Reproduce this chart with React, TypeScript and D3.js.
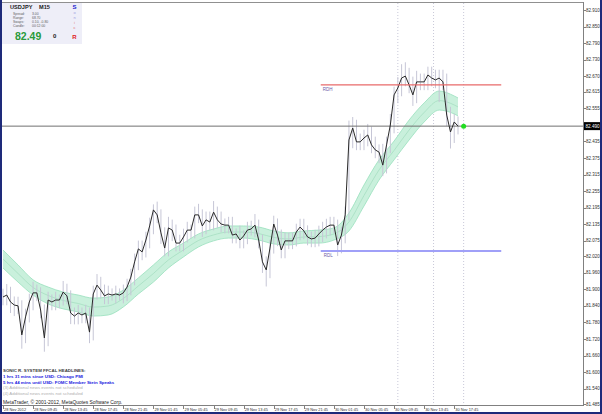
import React from 'react'
import * as d3 from 'd3'

// USDJPY M15, closes sampled every 30 min, 28 Nov 05:45 -> 30 Nov 18:15 (broker time)
const closes = [
  81.872, 81.879, 81.854, 81.843, 81.840, 81.735, 81.800, 81.854, 81.887, 81.887,
  81.825, 81.724, 81.861, 81.854, 81.861, 81.861, 81.890, 81.876, 81.814, 81.803,
  81.814, 81.807, 81.814, 81.745, 81.883, 81.915, 81.897, 81.876, 81.883, 81.879,
  81.883, 81.879, 81.887, 81.908, 81.944, 81.999, 82.046, 82.035, 82.078, 82.129,
  82.187, 82.169, 82.104, 82.049, 82.122, 82.114, 82.067, 82.067, 82.089, 82.114,
  82.114, 82.169, 82.169, 82.129, 82.151, 82.143, 82.179, 82.151, 82.136, 82.132,
  82.132, 82.096, 82.100, 82.078, 82.093, 82.114, 82.118, 82.132, 82.078, 81.999,
  81.970, 82.049, 82.136, 82.096, 82.042, 82.075, 82.075, 82.075, 82.107, 82.125,
  82.111, 82.089, 82.082, 82.085, 82.100, 82.114, 82.125, 82.132, 82.132, 82.060,
  82.096, 82.169, 82.440, 82.483, 82.433, 82.433, 82.447, 82.458, 82.422, 82.404,
  82.396, 82.349, 82.422, 82.494, 82.603, 82.628, 82.664, 82.671, 82.639, 82.603,
  82.650, 82.650, 82.650, 82.675, 82.664, 82.657, 82.664, 82.650, 82.530, 82.469,
  82.505, 82.490,
]
// wick size past the bar body, in pips
const wickUp = [
  3, 4, 3, 2, 3, 2, 3, 3, 4, 3, 2, 2, 3, 2, 3, 2, 4, 3, 2, 2,
  3, 2, 3, 2, 3, 4, 3, 2, 3, 2, 3, 2, 3, 3, 3, 3, 3, 3, 3, 3,
  2, 3, 2, 2, 4, 3, 2, 3, 3, 3, 2, 3, 4, 2, 3, 3, 4, 2, 3, 2,
  3, 3, 2, 3, 2, 3, 3, 4, 2, 2, 2, 3, 3, 2, 2, 3, 3, 3, 3, 3,
  3, 2, 2, 3, 3, 3, 3, 3, 3, 2, 3, 3, 7, 4, 3, 3, 3, 4, 3, 3,
  2, 3, 3, 4, 3, 4, 5, 5, 3, 3, 4, 3, 3, 3, 3, 3, 3, 3, 3, 3,
  3, 2,
]
const wickDown = [
  3, 3, 4, 4, 3, 5, 3, 2, 3, 3, 3, 5, 3, 3, 3, 3, 2, 3, 4, 3,
  3, 3, 3, 4, 3, 2, 3, 3, 3, 2, 3, 2, 3, 3, 3, 3, 3, 3, 2, 3,
  3, 3, 4, 3, 3, 4, 3, 3, 3, 2, 3, 3, 3, 4, 3, 3, 3, 3, 3, 3,
  3, 3, 3, 3, 3, 3, 2, 3, 3, 4, 6, 3, 2, 4, 3, 3, 3, 3, 2, 3,
  3, 3, 3, 3, 3, 3, 3, 3, 3, 4, 3, 3, 2, 3, 3, 3, 3, 3, 3, 3,
  4, 4, 3, 3, 3, 3, 3, 3, 3, 4, 3, 3, 3, 3, 3, 3, 8, 3, 4, 6,
  4, 3,
]

// Sonic R dragon (EMA34 of high / low), every 2 hours + last bar
const dragonHigh = [
  82.042, 81.988, 81.934, 81.908, 81.890, 81.879, 81.868, 81.872, 81.897, 81.941,
  81.988, 82.035, 82.067, 82.100, 82.118, 82.129, 82.129, 82.125, 82.111, 82.104,
  82.111, 82.114, 82.122, 82.176, 82.277, 82.368, 82.436, 82.512, 82.574, 82.617,
  82.599, 82.592,
]
const dragonLow = [
  81.977, 81.926, 81.879, 81.847, 81.829, 81.818, 81.803, 81.807, 81.836, 81.883,
  81.926, 81.977, 82.017, 82.053, 82.075, 82.085, 82.085, 82.078, 82.064, 82.060,
  82.067, 82.067, 82.078, 82.111, 82.201, 82.295, 82.368, 82.440, 82.505, 82.548,
  82.534, 82.527,
]

const priceTicks = [
  82.910, 82.850, 82.790, 82.730, 82.670, 82.615, 82.555, 82.435, 82.375, 82.315,
  82.255, 82.195, 82.135, 82.075, 82.020, 81.960, 81.900, 81.840, 81.780, 81.720,
  81.660, 81.600, 81.540, 81.485,
]
const lastPrice = 82.490
const dayHigh = 82.639
const dayLow = 82.038

const infoRows = [
  ['Spread:', '3.00'],
  ['Range:', '68.70'],
  ['Swaps:', '0.10, -0.80'],
  ['Candle:', '00:12:00'],
]
const sonicLetters = [
  ['S', '#2020d0', 'bold'],
  ['o', '#a0a0e0', 'normal'],
  ['n', '#a0a0e0', 'normal'],
  ['i', '#e08080', 'normal'],
  ['c', '#e06060', 'normal'],
  ['R', '#e02020', 'bold'],
]
const headlines = [
  ['SONIC R. SYSTEM  FFCAL HEADLINES:', '#404040', 'bold'],
  ['1 hrs 31 mins since USD: Chicago PMI', '#2020e0', 'bold'],
  ['5 hrs 44 mins until USD: FOMC Member Stein Speaks', '#2020e0', 'bold'],
  ['(3)  Additional news events not scheduled', '#b0b0b0', 'normal'],
  ['(4)  Additional news events not scheduled', '#b0b0b0', 'normal'],
]

const FONT = '"Liberation Sans", Arial, sans-serif'

export default function App() {
  const start = new Date(2012, 10, 28, 5, 45)
  const end = new Date(2012, 10, 30, 18, 15)
  const plot = { left: 2, top: 3, right: 583, bottom: 405 }

  const x = d3.scaleTime().domain([start, end]).range([3, 458])
  const y = d3.scaleLinear().domain([81.485, 82.910]).range([404, 10])

  const barTime = i => d3.timeMinute.offset(start, 30 * i)
  const dragonTime = k => k < dragonHigh.length - 1 ? d3.timeHour.offset(start, 2 * k) : end

  const line = d3.line().x((d, i) => x(barTime(i))).y(d => y(d))
  const band = d3.area()
    .curve(d3.curveMonotoneX)
    .x((d, k) => x(dragonTime(k)))
    .y0((d, k) => y(dragonLow[k]))
    .y1((d, k) => y(dragonHigh[k]))
  const edge = arr => d3.line().curve(d3.curveMonotoneX)
    .x((d, k) => x(dragonTime(k))).y(d => y(d))(arr)
  const mid = dragonHigh.map((h, k) => (h + dragonLow[k]) / 2)

  const wicks = closes.map((c, i) => {
    const prev = i > 0 ? closes[i - 1] : c
    const hi = Math.max(prev, c) + wickUp[i] * 0.01
    const lo = Math.min(prev, c) - wickDown[i] * 0.01
    return { x: x(barTime(i)), y1: y(hi), y2: y(lo) }
  })

  const timeTicks = d3.range(16).map(k => d3.timeHour.offset(start, 4 * k))
  const fmt = d3.timeFormat('%d %b %H:%M')

  const dayStart = new Date(2012, 10, 30, 0, 0)
  const dayEnd = new Date(2012, 11, 1, 0, 0)
  const separators = [
    new Date(2012, 10, 30, 10, 15),
    new Date(2012, 10, 30, 15, 0),
    new Date(2012, 10, 30, 19, 0),
  ]

  return (
    <svg width={602} height={414} style={{ position: 'absolute', left: 0, top: 0, fontFamily: FONT }}>
      <rect width={602} height={414} fill='#ffffff' />
      <defs>
        <clipPath id='plot'>
          <rect x={plot.left} y={plot.top} width={plot.right - plot.left} height={plot.bottom - plot.top} />
        </clipPath>
      </defs>

      <g clipPath='url(#plot)'>
        {separators.map((t, i) => (
          <line key={i} x1={x(t)} x2={x(t)} y1={plot.top} y2={plot.bottom}
            stroke='#c8c8d8' strokeDasharray='1,2' />
        ))}
        <path d={band(dragonHigh)} fill='#c9f0dc' />
        <path d={edge(dragonHigh)} fill='none' stroke='#98e0bc' strokeWidth={0.8} />
        <path d={edge(dragonLow)} fill='none' stroke='#98e0bc' strokeWidth={0.8} />
        <path d={edge(mid)} fill='none' stroke='#9ad8b8' strokeWidth={0.6} />
        {wicks.map((w, i) => (
          <line key={i} x1={w.x} x2={w.x} y1={w.y1} y2={w.y2} stroke='#c6c6d6' strokeWidth={1} />
        ))}
        <line x1={plot.left} x2={plot.right} y1={y(lastPrice)} y2={y(lastPrice)} stroke='#707070' />
        <path d={line(closes)} fill='none' stroke='#2a2a2a' strokeWidth={1} />
        <line x1={x(dayStart)} x2={x(dayEnd)} y1={y(dayHigh)} y2={y(dayHigh)} stroke='#e86a6a' strokeWidth={1.2} />
        <line x1={x(dayStart)} x2={x(dayEnd)} y1={y(dayLow)} y2={y(dayLow)} stroke='#a0a0f8' strokeWidth={2} />
        <text x={x(dayStart) + 2} y={y(dayHigh) + 6} fontSize={4.5} fill='#6a5aa8'>RDH</text>
        <text x={x(dayStart) + 3} y={y(dayLow) + 6} fontSize={4.5} fill='#6a5aa8'>RDL</text>
        <circle cx={x(separators[2])} cy={y(lastPrice)} r={2.5} fill='#22dd22' />

        {headlines.map(([t, c, w], i) => (
          <text key={i} x={3} y={[371.5, 378, 383.5, 389, 394.5][i]} fontSize={4.4} fill={c} fontWeight={w}>{t}</text>
        ))}
        <text x={3} y={403.5} fontSize={4.9} fill='#202020'>MetaTrader, © 2001-2012, MetaQuotes Software Corp.</text>

        <rect x={2} y={3} width={80} height={41} fill='#eeeef8' />
        <text x={10} y={8.5} fontSize={5.6} fontWeight='bold' fill='#202020'>USDJPY</text>
        <text x={39} y={8.5} fontSize={5.6} fontWeight='bold' fill='#202020'>M15</text>
        {infoRows.map(([k, v], i) => (
          <g key={k}>
            <text x={13} y={15 + i * 4} fontSize={3.4} fill='#606060'>{k}</text>
            <text x={32} y={15 + i * 4} fontSize={3.4} fill='#606060'>{v}</text>
          </g>
        ))}
        <text x={15} y={39.5} fontSize={10.5} fontWeight='bold' fill='#2a9a3a'>82.49</text>
        <text x={53} y={37.5} fontSize={6} fontWeight='bold' fill='#202020'>0</text>
        {sonicLetters.map(([l, c, w], i) => (
          <text key={i} x={74.5} y={[8.5, 14, 19, 24, 29, 39][i]} textAnchor='middle'
            fontSize={w === 'bold' ? 6 : 4} fontWeight={w} fill={c}>{l}</text>
        ))}
      </g>

      {/* plot frame */}
      <line x1={plot.left} x2={plot.right} y1={plot.top - 0.5} y2={plot.top - 0.5} stroke='#909090' />
      <line x1={plot.left} x2={plot.right + 0.5} y1={plot.bottom + 0.5} y2={plot.bottom + 0.5} stroke='#808080' />
      <line x1={plot.right + 0.5} x2={plot.right + 0.5} y1={plot.top - 1} y2={plot.bottom + 1} stroke='#808080' />

      {/* price axis */}
      {priceTicks.map(p => (
        <g key={p}>
          <line x1={plot.right} x2={plot.right + 3} y1={Math.round(y(p)) + 0.5} y2={Math.round(y(p)) + 0.5} stroke='#808080' />
          <text x={586} y={y(p) + 1.6} fontSize={4.5} fill='#303030'>{p.toFixed(3)}</text>
        </g>
      ))}
      <rect x={584} y={y(lastPrice) - 4} width={17} height={8} fill='#000000' />
      <text x={585.5} y={y(lastPrice) + 1.8} fontSize={4.6} fill='#ffffff'>{lastPrice.toFixed(3)}</text>

      {/* time axis */}
      {timeTicks.map((t, i) => (
        <g key={i}>
          <line x1={Math.round(x(t)) + 0.5} x2={Math.round(x(t)) + 0.5} y1={plot.bottom} y2={plot.bottom + 4} stroke='#808080' />
          <text x={x(t) + 1} y={410.8} fontSize={3.9} fill='#303030'>
            {i === 0 ? '28 Nov 2012' : fmt(t)}
          </text>
        </g>
      ))}

      {/* window frame */}
      <rect x={0} y={0} width={2} height={414} fill='#1e2a7a' />
      <rect x={600} y={0} width={2} height={414} fill='#1e2a7a' />
      <rect x={0} y={412} width={602} height={2} fill='#1e2a7a' />
    </svg>
  )
}
